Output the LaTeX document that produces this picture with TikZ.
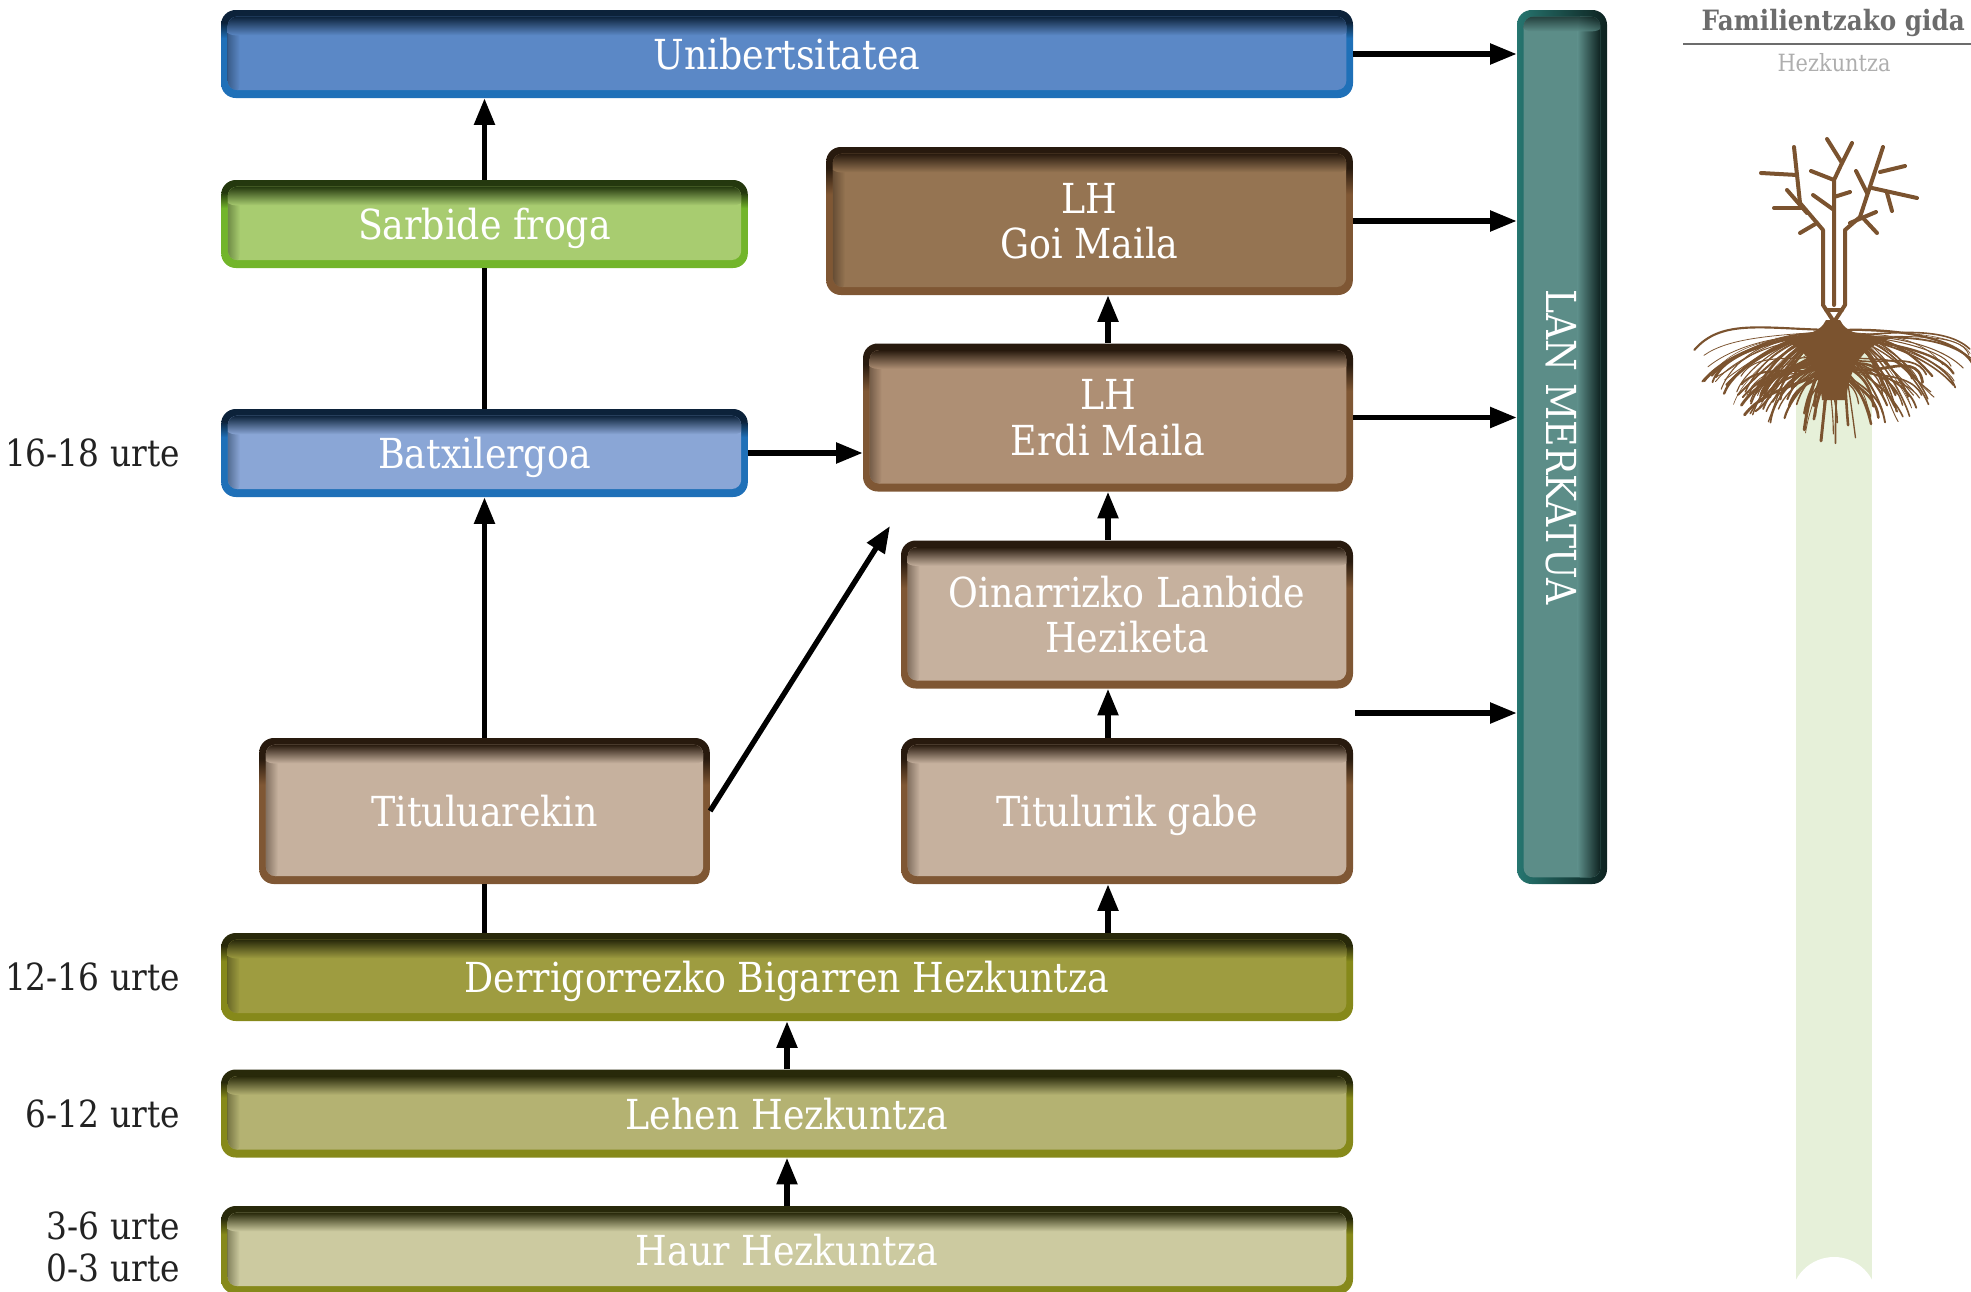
\documentclass[tikz,border=0pt]{standalone}
\usepackage{fontspec}
\usepackage{tikz}
\usetikzlibrary{arrows.meta}
\setmainfont[FakeStretch=0.88]{DejaVu Serif}
\definecolor{uniblue}{RGB}{91,136,198}
\definecolor{batxblue}{RGB}{138,166,214}
\definecolor{blueedge}{RGB}{31,112,184}
\definecolor{bluedark}{RGB}{12,34,58}
\definecolor{sarbgreen}{RGB}{168,204,112}
\definecolor{greenedge}{RGB}{114,181,42}
\definecolor{greendark}{RGB}{36,56,14}
\definecolor{goibrown}{RGB}{149,116,82}
\definecolor{erdibrown}{RGB}{174,143,116}
\definecolor{lightbrown}{RGB}{198,177,158}
\definecolor{brownedge}{RGB}{127,87,52}
\definecolor{browndark}{RGB}{40,26,14}
\definecolor{dbholive}{RGB}{158,156,64}
\definecolor{lehenolive}{RGB}{180,178,114}
\definecolor{haurolive}{RGB}{204,202,160}
\definecolor{oliveedge}{RGB}{134,137,26}
\definecolor{olivedark}{RGB}{40,41,10}
\definecolor{lanteal}{RGB}{92,141,136}
\definecolor{tealedge}{RGB}{38,118,112}
\definecolor{tealdark}{RGB}{14,34,32}
\definecolor{rootbrown}{RGB}{123,83,47}
\definecolor{bandgreen}{RGB}{230,240,217}
\definecolor{headgray}{RGB}{108,108,108}
\definecolor{agegray}{RGB}{34,34,34}
\colorlet{edgec}{black}
\colorlet{darkc}{black}
\pgfdeclareverticalshading[edgec,darkc]{boxedge}{100bp}{color(0bp)=(edgec); color(59bp)=(edgec); color(68bp)=(darkc); color(100bp)=(darkc)}
\tikzset{
  box/.style n args={3}{rounded corners=11pt, inner sep=0pt, align=center, text=white, text depth=0pt,
    font=\fontsize{31}{34}\selectfont, /utils/exec={\colorlet{edgec}{#2}\colorlet{darkc}{#3}}, shade, shading=boxedge,
    path picture={
      \begin{scope}
      \clip[rounded corners=7pt] ([shift={(5pt,-5pt)}]path picture bounding box.north west) rectangle ([shift={(-5pt,6pt)}]path picture bounding box.south east);
      \fill[#1] (path picture bounding box.south west) rectangle (path picture bounding box.north east);
      \shade[left color=#3!60!#1, right color=#1, opacity=0.7] ([xshift=5pt]path picture bounding box.south west) rectangle ([xshift=14pt]path picture bounding box.north west);
      \shade[top color=#3, bottom color=#1] ([yshift=-5pt]path picture bounding box.north west) rectangle ([yshift=-19pt]path picture bounding box.north east);
      \end{scope}}},
  lanbox/.style={rounded corners=11pt, inner sep=0pt, text=white,
    shade, left color=tealedge, right color=tealdark,
    path picture={
      \begin{scope}
      \clip[rounded corners=7pt] ([shift={(5pt,-5pt)}]path picture bounding box.north west) rectangle ([shift={(-5pt,5pt)}]path picture bounding box.south east);
      \fill[lanteal] (path picture bounding box.south west) rectangle (path picture bounding box.north east);
      \shade[left color=lanteal, right color=tealdark] ([xshift=-22pt]path picture bounding box.south east) rectangle ([xshift=-5pt]path picture bounding box.north east);
      \shade[top color=tealdark, bottom color=lanteal, opacity=0.7] ([yshift=-5pt]path picture bounding box.north west) rectangle ([yshift=-16pt]path picture bounding box.north east);
      \end{scope}}},
  age/.style={anchor=east, text=agegray, font=\fontsize{28}{30}\selectfont, inner sep=0pt},
  arr/.style={line width=4pt, -{Triangle[length=20pt,width=15pt]}},
  link/.style={line width=4pt},
  twig/.style={draw=rootbrown, line width=3pt, line cap=round, line join=round},
  root/.style={draw=rootbrown, line cap=round}
}

\begin{document}
\begin{tikzpicture}[x=0.75pt,y=0.75pt,yscale=-1,xscale=1]
\useasboundingbox (0,0) rectangle (1971,1292);
\node[box={uniblue}{blueedge}{bluedark}, minimum width=849pt, minimum height=66pt] (uni) at (787,54) {Unibertsitatea};
\node[box={sarbgreen}{greenedge}{greendark}, minimum width=395pt, minimum height=66pt] (sarb) at (484.5,224) {Sarbide froga};
\node[box={goibrown}{brownedge}{browndark}, minimum width=395pt, minimum height=111pt] (goi) at (1089.5,221) {LH\\Goi Maila};
\node[box={erdibrown}{brownedge}{browndark}, minimum width=367.5pt, minimum height=111pt] (erdi) at (1108,417.5) {LH\\Erdi Maila};
\node[box={batxblue}{blueedge}{bluedark}, minimum width=395pt, minimum height=66pt] (batx) at (484.5,453) {Batxilergoa};
\node[box={lightbrown}{brownedge}{browndark}, minimum width=339pt, minimum height=111pt] (oin) at (1127,614.5) {Oinarrizko Lanbide\\Heziketa};
\node[box={lightbrown}{brownedge}{browndark}, minimum width=338pt, minimum height=109.5pt] (titul) at (484.5,811) {Tituluarekin};
\node[box={lightbrown}{brownedge}{browndark}, minimum width=339pt, minimum height=109.5pt] (titulg) at (1127,811) {Titulurik gabe};
\node[box={dbholive}{oliveedge}{olivedark}, minimum width=849pt, minimum height=66pt] (dbh) at (787,977) {Derrigorrezko Bigarren Hezkuntza};
\node[box={lehenolive}{oliveedge}{olivedark}, minimum width=849pt, minimum height=66pt] (lehen) at (787,1113.5) {Lehen Hezkuntza};
\node[box={haurolive}{oliveedge}{olivedark}, minimum width=849pt, minimum height=66pt] (haur) at (787,1250) {Haur Hezkuntza};
\node[lanbox, minimum width=67.5pt, minimum height=655.5pt] (lm) at (1562,447) {};
\node[rotate=-90, text=white, font=\fontsize{31}{34}\selectfont] (lmtext) at (1561,447) {LAN MERKATUA};
\node[age] (age1) at (180,453) {16-18 urte};
\node[age] (age2) at (180,977) {12-16 urte};
\node[age] (age3) at (180,1114) {6-12 urte};
\node[age] (age4) at (180,1226) {3-6 urte};
\node[age] (age5) at (180,1268) {0-3 urte};
\coordinate (diagend) at (890,526);
\coordinate (lmfree) at (1355,713);
\draw[arr] (sarb.north) -- (sarb.north |- uni.south);
\draw[link] (batx.north) -- (sarb.south);
\draw[arr] (titul.north) -- (batx.south);
\draw[link] (titul.south |- dbh.north) -- (titul.south);
\draw[arr] (batx.east) -- (batx.east -| erdi.west);
\draw[arr] (titul.east) -- (diagend);
\draw[arr] (erdi.north) -- (erdi.north |- goi.south);
\draw[arr] (erdi.center |- oin.north) -- (erdi.south);
\draw[arr] (erdi.center |- titulg.north) -- (erdi.center |- oin.south);
\draw[arr] (erdi.center |- dbh.north) -- (erdi.center |- titulg.south);
\draw[arr] (lehen.north) -- (dbh.south);
\draw[arr] (haur.north) -- (lehen.south);
\draw[arr] (uni.east) -- (uni.east -| lm.west);
\draw[arr] (goi.east) -- (goi.east -| lm.west);
\draw[arr] (erdi.east) -- (erdi.east -| lm.west);
\draw[arr] (lmfree) -- (lmfree -| lm.west);
\node[anchor=base east, text=headgray, font=\fontsize{21}{24}\selectfont\bfseries, inner sep=0pt] (guide) at (1965,30) {Familientzako gida};
\draw[headgray, line width=1.5pt] (1683,44) -- (1971,44);
\node[anchor=base, text=headgray!55, font=\fontsize{17.8}{20}\selectfont, inner sep=0pt] (topic) at (1834,71) {Hezkuntza};
\fill[bandgreen] (1796,337) rectangle (1872,1292);
\fill[white] (1834,1300) circle[radius=43];
\fill[rootbrown] (1826,320) -- (1840,320) .. controls (1846,334) and (1866,337) .. (1892,338) .. controls (1866,345) and (1850,362) .. (1846,400) -- (1822,400) .. controls (1818,362) and (1802,345) .. (1775,338) .. controls (1800,337) and (1820,334) .. cycle;
\pgfmathsetseed{11}
\foreach \r in {1,...,70}{
  \pgfmathsetmacro{\sg}{rnd<0.5 ? -1 : 1}
  \pgfmathsetmacro{\dx}{\sg*(60+rnd*80)}
  \pgfmathsetmacro{\sx}{1834+\sg*rnd*12}
  \pgfmathsetmacro{\sy}{330+rnd*10}
  \pgfmathsetmacro{\ey}{345+(140-abs(\dx))/80*50+rnd*35}
  \pgfmathsetmacro{\lw}{0.4+rnd*1.4}
  \pgfmathsetmacro{\ca}{1834+(0.35+0.2*rnd)*\dx}
  \pgfmathsetmacro{\cay}{328+rnd*14}
  \pgfmathsetmacro{\cb}{1834+(0.75+0.2*rnd)*\dx}
  \pgfmathsetmacro{\cy}{\ey-12-rnd*20}
  \pgfmathsetmacro{\ex}{1834+\dx}
  \draw[root, line width=\lw pt] (\sx,\sy) .. controls (\ca,\cay) and (\cb,\cy) .. (\ex,\ey);
}
\foreach \r in {1,...,55}{
  \pgfmathsetmacro{\dx}{(2*rnd-1)*95}
  \pgfmathsetmacro{\sx}{1834+(rnd-0.5)*22}
  \pgfmathsetmacro{\sy}{340+rnd*20}
  \pgfmathsetmacro{\ey}{447-abs(\dx)*0.35-rnd*45}
  \pgfmathsetmacro{\lw}{0.5+rnd*1.8}
  \pgfmathsetmacro{\ca}{\sx+0.25*\dx}
  \pgfmathsetmacro{\cay}{\sy+20+rnd*10}
  \pgfmathsetmacro{\cb}{1834+(0.7+0.25*rnd)*\dx}
  \pgfmathsetmacro{\cy}{\ey-25-rnd*15}
  \pgfmathsetmacro{\ex}{1834+\dx}
  \draw[root, line width=\lw pt] (\sx,\sy) .. controls (\ca,\cay) and (\cb,\cy) .. (\ex,\ey);
}
\draw[twig] (1834,322) -- (1823,305) -- (1823,230) -- (1800,203) -- (1794,147);
\draw[twig] (1834,322) -- (1845,305) -- (1845,230) -- (1860,217) -- (1883,147);
\draw[twig] (1826,310) -- (1842,310);
\draw[twig] (1834,305) -- (1834,180) -- (1842,163) -- (1827,139);
\draw[twig] (1842,163) -- (1852,143);
\draw[twig] (1834,180) -- (1811,171);
\draw[twig] (1834,197) -- (1850,192);
\draw[twig] (1834,210) -- (1813,195);
\draw[twig] (1761,173) -- (1797,175);
\draw[twig] (1774,208) -- (1803,208);
\draw[twig] (1787,190) -- (1807,213);
\draw[twig] (1800,233) -- (1817,223);
\draw[twig] (1856,171) -- (1867,193);
\draw[twig] (1880,172) -- (1905,166);
\draw[twig] (1872,188) -- (1917,198);
\draw[twig] (1887,193) -- (1892,211);
\draw[twig] (1850,223) -- (1876,212);
\draw[twig] (1863,218) -- (1877,233);
\end{tikzpicture}
\end{document}
